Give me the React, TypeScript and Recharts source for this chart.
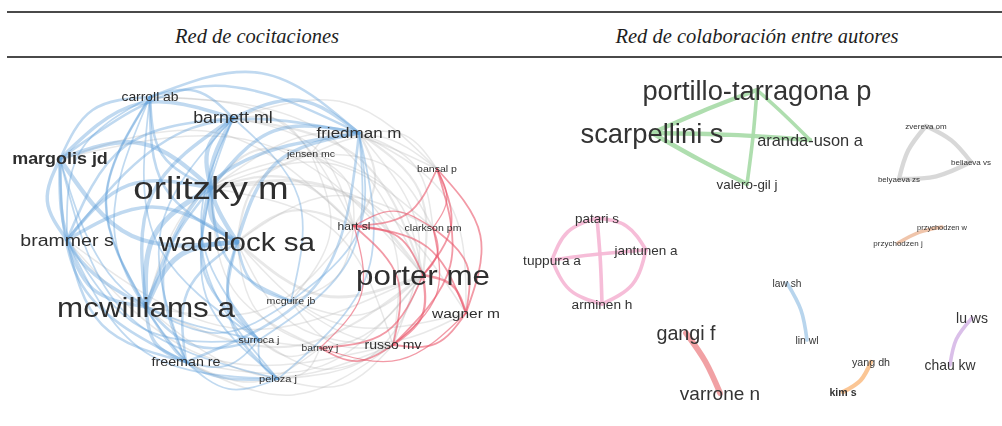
import { ComposedChart, Line, Scatter, XAxis, YAxis } from 'recharts';

type MapNode = { id: string; label: string; x: number; y: number; weight: number; bold?: boolean };
type MapEdge = [string, string, number];

// ---- Red de cocitaciones (left map) ----
const citeNodes: MapNode[] = [
  { id: 'or', label: 'orlitzky m', x: 211, y: 188, weight: 32 },
  { id: 'wa', label: 'waddock sa', x: 237, y: 242, weight: 25.7 },
  { id: 'mc', label: 'mcwilliams a', x: 146, y: 307, weight: 27.3 },
  { id: 'po', label: 'porter me', x: 423, y: 275, weight: 27.2 },
  { id: 'ma', label: 'margolis jd', x: 60, y: 159, weight: 15.6, bold: true },
  { id: 'br', label: 'brammer s', x: 67, y: 240, weight: 17 },
  { id: 'ca', label: 'carroll ab', x: 150, y: 97, weight: 12.1 },
  { id: 'ba', label: 'barnett ml', x: 233, y: 118, weight: 15.6 },
  { id: 'fr', label: 'friedman m', x: 359, y: 133, weight: 14.8 },
  { id: 'je', label: 'jensen mc', x: 311, y: 154, weight: 9.2 },
  { id: 'bs', label: 'bansal p', x: 437, y: 169, weight: 9.2 },
  { id: 'ha', label: 'hart sl', x: 354, y: 226, weight: 10.5 },
  { id: 'cl', label: 'clarkson pm', x: 433, y: 228, weight: 9.2 },
  { id: 'wg', label: 'wagner m', x: 466, y: 313, weight: 13.5 },
  { id: 'ru', label: 'russo mv', x: 393, y: 345, weight: 12.2 },
  { id: 'bn', label: 'barney j', x: 320, y: 348, weight: 9 },
  { id: 'mg', label: 'mcguire jb', x: 291, y: 301, weight: 9.2 },
  { id: 'su', label: 'surroca j', x: 259, y: 340, weight: 9.3 },
  { id: 'fe', label: 'freeman re', x: 186, y: 362, weight: 12.4 },
  { id: 'pe', label: 'peloza j', x: 278, y: 379, weight: 9.6 },
];

const citeBlue = ['or', 'wa', 'mc', 'ma', 'br', 'ca', 'ba', 'fr', 'su', 'fe', 'pe', 'mg'];
const citeRed = ['po', 'ha', 'bs', 'cl', 'wg', 'ru', 'bn'];

const citeEdges: MapEdge[] = [
  ['or', 'wa', 5], ['or', 'mc', 5], ['wa', 'mc', 5], ['or', 'ma', 4], ['wa', 'ma', 4],
  ['mc', 'ma', 3], ['or', 'br', 3], ['wa', 'br', 3], ['mc', 'br', 3], ['ma', 'br', 3],
  ['or', 'ca', 2], ['wa', 'ca', 2], ['mc', 'ca', 2], ['ma', 'ca', 2], ['br', 'ca', 1],
  ['or', 'ba', 4], ['wa', 'ba', 4], ['mc', 'ba', 3], ['ma', 'ba', 3], ['ba', 'ca', 2],
  ['br', 'ba', 2], ['or', 'fr', 3], ['wa', 'fr', 3], ['mc', 'fr', 3], ['ma', 'fr', 2],
  ['ba', 'fr', 3], ['ca', 'fr', 2], ['br', 'fr', 2], ['or', 'fe', 2], ['wa', 'fe', 2],
  ['mc', 'fe', 3], ['ma', 'fe', 2], ['br', 'fe', 2], ['ca', 'fe', 1], ['ba', 'fe', 1],
  ['fr', 'fe', 2], ['or', 'su', 2], ['wa', 'su', 2], ['mc', 'su', 2], ['ma', 'su', 1],
  ['br', 'su', 1], ['fr', 'su', 1], ['fe', 'su', 1], ['or', 'pe', 1], ['wa', 'pe', 2],
  ['mc', 'pe', 2], ['ma', 'pe', 1], ['br', 'pe', 1], ['fe', 'pe', 1], ['su', 'pe', 1],
  ['or', 'mg', 2], ['wa', 'mg', 2], ['mc', 'mg', 1], ['fr', 'mg', 1], ['ba', 'mg', 1],
  ['ca', 'mc', 1], ['ca', 'su', 1], ['ba', 'su', 1], ['ba', 'pe', 1], ['fr', 'pe', 1],
  // between groups
  ['or', 'po', 3], ['wa', 'po', 3], ['mc', 'po', 2], ['ma', 'po', 1], ['br', 'po', 1],
  ['ba', 'po', 2], ['fr', 'po', 2], ['fr', 'ha', 2], ['fr', 'bs', 1], ['fr', 'cl', 1],
  ['fr', 'ru', 1], ['fr', 'wg', 1], ['or', 'ha', 2], ['wa', 'ha', 2], ['mc', 'ha', 1],
  ['or', 'je', 2], ['wa', 'je', 2], ['mc', 'je', 1], ['ba', 'je', 1], ['fr', 'je', 1],
  ['je', 'po', 1], ['je', 'ha', 1], ['or', 'ru', 1], ['wa', 'ru', 1], ['or', 'cl', 1],
  ['wa', 'cl', 1], ['or', 'wg', 1], ['wa', 'wg', 1], ['mc', 'ru', 1], ['ca', 'po', 1],
  ['or', 'bn', 1], ['wa', 'bn', 1], ['mg', 'po', 1], ['mg', 'ha', 1], ['mg', 'ru', 1],
  ['su', 'po', 1], ['su', 'bn', 1], ['pe', 'po', 1], ['pe', 'ru', 1], ['fe', 'po', 1],
  ['or', 'bs', 1], ['ba', 'bs', 1], ['je', 'bs', 1], ['mg', 'je', 1], ['bn', 'pe', 1],
  ['je', 'cl', 1], ['je', 'ru', 1], ['ba', 'ha', 1], ['ma', 'ha', 1], ['fe', 'ru', 1],
  ['fe', 'bn', 1], ['su', 'ru', 1], ['mg', 'wg', 1], ['ca', 'ha', 1], ['br', 'ru', 1],
  // porter group
  ['po', 'ha', 2], ['po', 'bs', 2], ['po', 'cl', 2], ['po', 'wg', 3], ['po', 'ru', 3],
  ['po', 'bn', 2], ['ha', 'bs', 2], ['ha', 'cl', 1], ['ha', 'wg', 2], ['ha', 'ru', 2],
  ['ha', 'bn', 1], ['bs', 'cl', 1], ['bs', 'wg', 2], ['bs', 'ru', 2], ['cl', 'wg', 2],
  ['cl', 'ru', 1], ['wg', 'ru', 2], ['ru', 'bn', 2], ['bn', 'wg', 1],
];

// ---- Red de colaboración entre autores (right map) ----
const coauthorNodes: MapNode[] = [
  { id: 'pt', label: 'portillo-tarragona p', x: 757, y: 90, weight: 27.3 },
  { id: 'sc', label: 'scarpellini s', x: 652, y: 133, weight: 27.4 },
  { id: 'ar', label: 'aranda-uson a', x: 810, y: 140, weight: 16.4 },
  { id: 'va', label: 'valero-gil j', x: 747, y: 184, weight: 13.4 },
  { id: 'zv', label: 'zvereva om', x: 926, y: 126, weight: 8 },
  { id: 'bv', label: 'beliaeva vs', x: 971, y: 162, weight: 8 },
  { id: 'bz', label: 'belyaeva zs', x: 899, y: 179, weight: 8 },
  { id: 'pw', label: 'przychodzen w', x: 942, y: 227, weight: 7.5 },
  { id: 'pj', label: 'przychodzen j', x: 898, y: 243, weight: 8 },
  { id: 'pa', label: 'patari s', x: 597, y: 218, weight: 13.4 },
  { id: 'tu', label: 'tuppura a', x: 552, y: 260, weight: 13.7 },
  { id: 'ja', label: 'jantunen a', x: 646, y: 250, weight: 13.5 },
  { id: 'am', label: 'arminen h', x: 602, y: 304, weight: 13.7 },
  { id: 'ga', label: 'gangi f', x: 686, y: 333, weight: 19.7 },
  { id: 'vr', label: 'varrone n', x: 720, y: 393, weight: 19 },
  { id: 'lw', label: 'law sh', x: 787, y: 283, weight: 10.2 },
  { id: 'ln', label: 'lin wl', x: 807, y: 340, weight: 10.4 },
  { id: 'lu', label: 'lu ws', x: 972, y: 318, weight: 14 },
  { id: 'ch', label: 'chau kw', x: 950, y: 365, weight: 13.9 },
  { id: 'ya', label: 'yang dh', x: 871, y: 362, weight: 10.7 },
  { id: 'ki', label: 'kim s', x: 843, y: 392, weight: 10.6, bold: true },
];

const coauthorClusters: Record<string, string[]> = {
  green: ['pt', 'sc', 'ar', 'va'],
  grey: ['zv', 'bv', 'bz'],
  pink: ['pa', 'tu', 'ja', 'am'],
  red: ['ga', 'vr'],
  salmon: ['pw', 'pj'],
  blue: ['lw', 'ln'],
  orange: ['ya', 'ki'],
  purple: ['lu', 'ch'],
};

// the two crossing pink links run straight
const coauthorEdges: MapEdge[] = [
  ['sc', 'pt', 3], ['sc', 'ar', 3], ['va', 'sc', 3], ['pt', 'ar', 2.5], ['pt', 'va', 2.5],
  ['zv', 'bv', 3], ['bv', 'bz', 3], ['bz', 'zv', 3],
  ['pa', 'ja', 2.5], ['ja', 'am', 2.5], ['am', 'tu', 2.5], ['tu', 'pa', 2.5],
  ['pa', 'am', 2.5], ['tu', 'ja', 2.5],
  ['ga', 'vr', 4],
  ['pj', 'pw', 2.5],
  ['lw', 'ln', 2.5],
  ['ya', 'ki', 3],
  ['ch', 'lu', 2.5],
];

const clusterColors: Record<string, string> = {
  green: '#abdcab',
  grey: '#d6d6d6',
  pink: '#f6b9d6',
  red: '#f09c9f',
  salmon: '#efc2a6',
  blue: '#b4d3ec',
  orange: '#fbc38f',
  purple: '#d8bce8',
};

const clusterBend: Record<string, number> = {
  green: 0.01,
  grey: 0.08,
  pink: 0.16,
  red: 0.04,
  salmon: 0.06,
  blue: 0.07,
  orange: 0.12,
  purple: 0.1,
};

type Pt = { x: number; y: number };

// bend an edge away from the map centre (or keep its given direction)
function edgePath(a: MapNode, b: MapNode, bend: number, centre?: Pt): Pt[] {
  let s = a;
  let t = b;
  if (centre) {
    const angA = Math.atan2(a.y - centre.y, a.x - centre.x);
    const angB = Math.atan2(b.y - centre.y, b.x - centre.x);
    let diff = angB - angA;
    while (diff > Math.PI) diff -= 2 * Math.PI;
    while (diff < -Math.PI) diff += 2 * Math.PI;
    if (diff < 0) {
      s = b;
      t = a;
    }
  }
  const dx = t.x - s.x;
  const dy = t.y - s.y;
  return [
    { x: s.x, y: s.y },
    { x: (s.x + t.x) / 2 + dy * bend, y: (s.y + t.y) / 2 - dx * bend },
    { x: t.x, y: t.y },
  ];
}

function makeLabel(stretch: number, color: string) {
  return (props: any) => {
    const { cx, cy, payload } = props;
    return (
      <text
        transform={`translate(${cx},${cy}) scale(${stretch},1)`}
        textAnchor="middle"
        dominantBaseline="central"
        fontSize={payload.weight}
        fontWeight={payload.bold ? 700 : 400}
        fontFamily="'Liberation Sans', Arial, sans-serif"
        fill={color}
      >
        {payload.label}
      </text>
    );
  };
}

interface StyledEdge {
  key: string;
  pts: Pt[];
  color: string;
  width: number;
  opacity: number;
  layer: number;
}

function citeEdgeStyle(a: string, b: string, w: number) {
  const blue = citeBlue.includes(a) && citeBlue.includes(b);
  const red = citeRed.includes(a) && citeRed.includes(b);
  if (blue) return { color: '#62a0d9', width: 0.9 + w * 0.85, opacity: 0.4, layer: 1 };
  if (red) return { color: '#e9566a', width: 0.8 + w * 0.5, opacity: 0.6, layer: 2 };
  return { color: '#b8b8b8', width: 0.8 + w * 0.7, opacity: 0.33, layer: 0 };
}

function clusterOf(id: string) {
  return Object.keys(coauthorClusters).find((c) => coauthorClusters[c].includes(id)) || 'grey';
}

function NetworkMap({
  nodes,
  edges,
  xDomain,
  yDomain,
  width,
  height,
  stretch,
  textColor,
}: {
  nodes: MapNode[];
  edges: StyledEdge[];
  xDomain: [number, number];
  yDomain: [number, number];
  width: number;
  height: number;
  stretch: number;
  textColor: string;
}) {
  return (
    <ComposedChart width={width} height={height} margin={{ top: 0, right: 0, bottom: 0, left: 0 }}>
      <XAxis type="number" dataKey="x" domain={xDomain} allowDataOverflow hide />
      <YAxis type="number" dataKey="y" domain={yDomain} allowDataOverflow reversed hide />
      {edges.map((e) => (
        <Line
          key={e.key}
          data={e.pts}
          dataKey="y"
          type="natural"
          stroke={e.color}
          strokeWidth={e.width}
          strokeOpacity={e.opacity}
          strokeLinecap="round"
          dot={false}
          activeDot={false}
          isAnimationActive={false}
        />
      ))}
      <Scatter data={nodes} dataKey="y" shape={makeLabel(stretch, textColor)} isAnimationActive={false} />
    </ComposedChart>
  );
}

export default function App() {
  const citeById: Record<string, MapNode> = {};
  citeNodes.forEach((n) => (citeById[n.id] = n));
  const citeStyled: StyledEdge[] = citeEdges.map(([a, b, w], i) => ({
    key: `c${i}`,
    pts: edgePath(citeById[a], citeById[b], 0.2, { x: 260, y: 245 }),
    ...citeEdgeStyle(a, b, w),
  }));
  citeStyled.sort((p, q) => p.layer - q.layer);

  const coById: Record<string, MapNode> = {};
  coauthorNodes.forEach((n) => (coById[n.id] = n));
  const coStyled: StyledEdge[] = coauthorEdges.map(([a, b, w], i) => {
    const cluster = clusterOf(a);
    const crossing = (a === 'pa' && b === 'am') || (a === 'tu' && b === 'ja');
    return {
      key: `a${i}`,
      pts: edgePath(coById[a], coById[b], crossing ? 0.01 : clusterBend[cluster]),
      color: clusterColors[cluster],
      width: w * 1.45,
      opacity: 0.95,
      layer: 0,
    };
  });

  const rule = (top: number) => (
    <div style={{ position: 'absolute', left: 7, right: 0, top, height: 1.6, background: '#4a4a4a' }} />
  );
  const heading: React.CSSProperties = {
    position: 'absolute',
    top: 25,
    fontFamily: "'Liberation Serif', 'DejaVu Serif', serif",
    fontStyle: 'italic',
    fontSize: 20.5,
    color: '#1e1e1e',
    textAlign: 'center',
    whiteSpace: 'nowrap',
  };

  return (
    <div style={{ position: 'absolute', left: 0, top: 0, width: 1002, height: 426, background: '#fff', overflow: 'hidden' }}>
      {rule(11)}
      {rule(56)}
      <div style={{ ...heading, left: 7, width: 500 }}>Red de cocitaciones</div>
      <div style={{ ...heading, left: 507, width: 500 }}>Red de colaboración entre autores</div>
      <div style={{ position: 'absolute', left: 0, top: 60, filter: 'blur(0.3px)' }}>
        <NetworkMap
          nodes={citeNodes}
          edges={citeStyled}
          xDomain={[0, 500]}
          yDomain={[60, 426]}
          width={500}
          height={366}
          stretch={1.15}
          textColor="#2e2e2e"
        />
      </div>
      <div style={{ position: 'absolute', left: 500, top: 60, filter: 'blur(0.6px)' }}>
        <NetworkMap
          nodes={coauthorNodes}
          edges={coStyled}
          xDomain={[500, 1002]}
          yDomain={[60, 426]}
          width={502}
          height={366}
          stretch={1}
          textColor="#333"
        />
      </div>
    </div>
  );
}
